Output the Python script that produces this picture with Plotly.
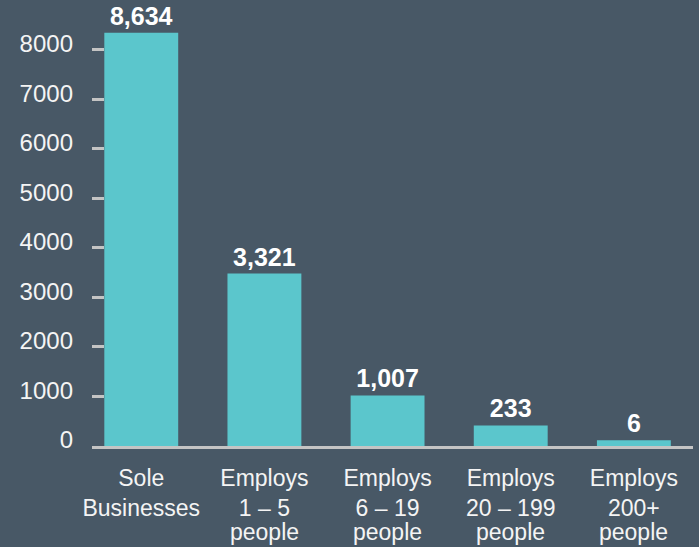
import plotly.graph_objects as go

label_top = ["Sole", "Employs", "Employs", "Employs", "Employs"]
label_mid = ["Businesses", "1 – 5", "6 – 19", "20 – 199", "200+"]
label_low = ["", "people", "people", "people", "people"]
# bar heights as drawn in the reference (on the axis scale)
bar_heights = [8340, 3480, 1020, 415, 115]
# value labels printed above the bars
value_labels = ["8,634", "3,321", "1,007", "233", "6"]
y_ticks = [0, 1000, 2000, 3000, 4000, 5000, 6000, 7000, 8000]

BG = "#485866"
BAR = "#5bc6cc"
AXIS = "#c4c4c4"
FONT = "Liberation Sans, Arial, sans-serif"
TXT = "#f4f4f4"

xs = list(range(len(label_top)))

fig = go.Figure(go.Bar(
    x=xs,
    y=bar_heights,
    width=0.6,
    marker=dict(color=BAR, line=dict(width=0)),
    text=value_labels,
    textposition="outside",
    textfont=dict(family=FONT, size=25, color="white", weight="bold"),
    cliponaxis=False,
))

for x, t in zip(xs, label_low):
    if t:
        fig.add_annotation(x=x, xref="x", y=-0.2235, yref="paper", yanchor="bottom",
                           text=t, showarrow=False, borderpad=0,
                           font=dict(family=FONT, size=23, color=TXT))

fig.update_layout(
    width=699, height=547,
    margin=dict(l=92, r=6, t=0, b=101, autoexpand=False),
    paper_bgcolor=BG, plot_bgcolor=BG,
    showlegend=False,
    font=dict(family=FONT, color=TXT, size=23),
)
fig.update_xaxes(
    tickmode="array", tickvals=xs,
    ticktext=[a + "<br>" + b for a, b in zip(label_top, label_mid)],
    range=[-0.4, 4.48], showgrid=False, zeroline=False, automargin=False,
    showline=True, linecolor=AXIS, linewidth=3, ticks="",
    tickfont=dict(size=23, family=FONT, color=TXT),
    ticklabelstandoff=9,
)
fig.update_yaxes(
    tickmode="array", tickvals=y_ticks, ticktext=[str(v) for v in y_ticks],
    range=[0, 9000], showgrid=False, zeroline=False, showline=False, automargin=False,
    ticks="inside", ticklen=12, tickwidth=3, tickcolor=AXIS,
    tickfont=dict(size=24, family=FONT, color=TXT),
    ticklabelstandoff=18, ticklabelshift=-6,
)

fig.write_html(
    "out.html",
    config={"displayModeBar": False},
    post_script="document.body.style.margin='0';document.body.style.background='%s';" % BG,
)
